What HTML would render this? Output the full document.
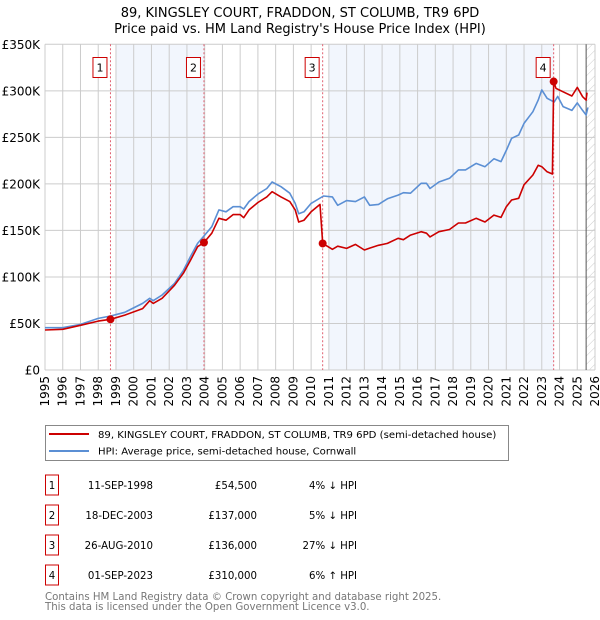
<!DOCTYPE html>
<html><head><meta charset="utf-8"><style>
body{margin:0;background:#fff;width:600px;height:620px;overflow:hidden;font-family:"DejaVu Sans","Liberation Sans",sans-serif;}
svg{display:block}
</style></head><body>
<svg id="chart" width="600" height="620" xmlns="http://www.w3.org/2000/svg">
<defs><pattern id="hatch" width="6" height="6" patternUnits="userSpaceOnUse" patternTransform="rotate(45)"><line x1="0" y1="0" x2="0" y2="6" stroke="#ccc" stroke-width="1"/></pattern></defs>
<text x="300" y="17" text-anchor="middle" font-size="13">89, KINGSLEY COURT, FRADDON, ST COLUMB, TR9 6PD</text>
<text x="300" y="33" text-anchor="middle" font-size="13">Price paid vs. HM Land Registry's House Price Index (HPI)</text>
<g id="plot"></g>
<g id="legend">
<rect x="45.5" y="425.5" width="463" height="35" fill="#fff" stroke="#888"/>
<line x1="49" y1="434" x2="89" y2="434" stroke="#cc0000" stroke-width="2"/>
<text x="98" y="438" font-size="10.1">89, KINGSLEY COURT, FRADDON, ST COLUMB, TR9 6PD (semi-detached house)</text>
<line x1="49" y1="451" x2="89" y2="451" stroke="#5b8fd4" stroke-width="2"/>
<text x="98" y="454.5" font-size="10.1">HPI: Average price, semi-detached house, Cornwall</text>
</g>
<g id="table" font-size="10.2"></g>
<text x="45" y="600" font-size="10.2" fill="#777">Contains HM Land Registry data © Crown copyright and database right 2025.</text>
<text x="45" y="610" font-size="10.2" fill="#777">This data is licensed under the Open Government Licence v3.0.</text>
</svg>
<script>
const hpiYears=[1995,1996,1997,1998,1998.7,1999.5,2000.5,2000.9,2001.1,2001.6,2002.3,2002.8,2003.2,2003.6,2004.0,2004.4,2004.8,2005.2,2005.6,2006.0,2006.2,2006.5,2007.0,2007.5,2007.8,2008.3,2008.8,2009.1,2009.3,2009.6,2010.0,2010.7,2011.2,2011.5,2012.0,2012.5,2013.0,2013.3,2013.8,2014.3,2014.9,2015.2,2015.6,2016.2,2016.5,2016.7,2017.2,2017.8,2018.3,2018.7,2019.3,2019.8,2020.3,2020.7,2021.0,2021.3,2021.7,2022.0,2022.5,2022.8,2023.0,2023.3,2023.7,2023.9,2024.2,2024.7,2025.0,2025.3,2025.5,2025.6];
const hpiValues=[45.5,45.5,49,55.5,58,62,71.6,77,74.5,80.6,93,107,122,136,145,154,172,170,175.5,175.5,173,181,189,195,202,197,190,179,168,170,179,187,186,177,182,181,186,177,178,184,188,190.5,190,200.6,200.6,195,202,206,215,215,222,218.5,227,224,236,249,252.5,265,277.6,290,301,292,288,294,283,279,287,279,274,282];
const redYears=[1995,1996,1997,1998,1998.7,1999.5,2000.5,2000.9,2001.1,2001.6,2002.3,2002.8,2003.2,2003.6,2003.96,2004.4,2004.8,2005.2,2005.6,2006.0,2006.2,2006.5,2007.0,2007.5,2007.8,2008.3,2008.8,2009.1,2009.3,2009.6,2010.0,2010.5,2010.65,2011.2,2011.5,2012.0,2012.5,2013.0,2013.3,2013.8,2014.3,2014.9,2015.2,2015.6,2016.2,2016.5,2016.7,2017.2,2017.8,2018.3,2018.7,2019.3,2019.8,2020.3,2020.7,2021.0,2021.3,2021.7,2022.0,2022.5,2022.8,2023.0,2023.3,2023.6,2023.67,2023.8,2024.2,2024.7,2025.0,2025.3,2025.5,2025.55];
const redValues=[43,43.7,48,52.6,54.5,59,66,74.5,71.6,77,91,104,118,132.5,137,147,163,161,167,167,163.7,172,180,186,191.6,186,181,172,159,161,170,178,136,129.7,133,130.7,135,129,131,134,136,141.5,140,145,148.6,147,143,148.6,151,158,158,163,159,166.5,164,175.5,182.7,184.5,199,209.5,220,218.5,213,210.6,310,302.6,299,294.4,303.7,293.7,290,298];
const saleLabels=["1","2","3","4"];
const saleYears=[1998.69,2003.96,2010.65,2023.67];
const saleValues=[54.5,137,136,310];
const saleDates=["11-SEP-1998","18-DEC-2003","26-AUG-2010","01-SEP-2023"];
const salePrices=["£54,500","£137,000","£136,000","£310,000"];
const saleHpi=["4% ↓ HPI","5% ↓ HPI","27% ↓ HPI","6% ↑ HPI"];
const yTicks=[0,50,100,150,200,250,300,350];
const yTickLabels=["£0","£50K","£100K","£150K","£200K","£250K","£300K","£350K"];
const xTicks=[1995,1996,1997,1998,1999,2000,2001,2002,2003,2004,2005,2006,2007,2008,2009,2010,2011,2012,2013,2014,2015,2016,2017,2018,2019,2020,2021,2022,2023,2024,2025,2026];

const NS="http://www.w3.org/2000/svg";
const L=45,R=595,T=44.3,B=370;
const xs=y=>L+(y-1995)/(2026-1995)*(R-L);
const ys=v=>B-v/350*(B-T);
function mk(tag,attrs,parent){const e=document.createElementNS(NS,tag);for(const k in attrs)e.setAttribute(k,attrs[k]);parent.appendChild(e);return e;}
const plot=document.getElementById('plot');
let b1=mk('rect',{x:xs(1999),y:T,width:xs(saleYears[1])-xs(1999),height:B-T,fill:'#eef3fc',opacity:0.75},plot);


let b2=mk('rect',{x:xs(2011),y:T,width:xs(saleYears[3])-xs(2011),height:B-T,fill:'#eef3fc',opacity:0.75},plot);


let hb=mk('rect',{x:xs(2025.5),y:T,width:R-xs(2025.5),height:B-T,fill:'url(#hatch)'},plot);


xTicks.forEach((t,i)=>{
  const x=xs(t);
  const g=mk('line',{x1:x,y1:T,x2:x,y2:B,stroke:'#ccc','stroke-width':1},plot);
  
  
  const tx=mk('text',{x:0,y:0,'font-size':12,'text-anchor':'end',transform:`translate(${x+4},${B+6}) rotate(-90)`},plot);
  
  
  tx.textContent=t;
});
yTicks.forEach((t,i)=>{
  const y=ys(t);
  const g=mk('line',{x1:L,y1:y,x2:R,y2:y,stroke:'#ccc','stroke-width':1},plot);
  
  
  const tx=mk('text',{x:L-5,y:y+4.5,'font-size':12,'text-anchor':'end'},plot);
  
  
  tx.textContent=yTickLabels[i];
});
let nl=mk('line',{x1:xs(2025.5),y1:T,x2:xs(2025.5),y2:B,stroke:'#555','stroke-width':1},plot);


saleYears.forEach((s,i)=>{
  const x=xs(s);
  const l=mk('line',{x1:x,y1:T,x2:x,y2:B,stroke:'#e06070','stroke-width':1,'stroke-dasharray':'2,2'},plot);
  
  
  const r=mk('rect',{x:x-17.5,y:57.5,width:14,height:20,fill:'#fff',stroke:'#cc0000'},plot);
  
  
  const t=mk('text',{x:x-10.5,y:71.5,'font-size':11,'text-anchor':'middle'},plot);
  
  
  t.textContent=saleLabels[i];
});
function path(xa,va,color,name){
  const d=xa.map((y,i)=>(i?'L':'M')+xs(y).toFixed(1)+','+ys(va[i]).toFixed(1)).join('');
  const p=mk('path',{d:d,fill:'none',stroke:color,'stroke-width':1.6,'stroke-linejoin':'round'},plot);
  
  
}
path(hpiYears,hpiValues,'#5b8fd4','hpi-line');
path(redYears,redValues,'#cc0000','property-price-line');
saleYears.forEach((s,i)=>{
  const c=mk('circle',{cx:xs(s),cy:ys(saleValues[i]),r:4,fill:'#cc0000'},plot);
  
  
});
const tb=document.getElementById('table');
saleLabels.forEach((s,i)=>{
  const cy=485+i*30;
  const r=mk('rect',{x:45.5,y:cy-10,width:13,height:20,fill:'#fff',stroke:'#cc0000'},tb);
  
  
  const cols=[[52,'middle',s,'table-sale-number'],[153,'end',saleDates[i],'table-sale-date'],[257,'end',salePrices[i],'table-sale-price'],[357,'end',saleHpi[i],'table-sale-hpi-diff']];
  cols.forEach(c=>{
    const t=mk('text',{x:c[0],y:cy+4,'text-anchor':c[1]},tb);
    
    
    t.textContent=c[2];
  });
});
</script>
</body></html>
